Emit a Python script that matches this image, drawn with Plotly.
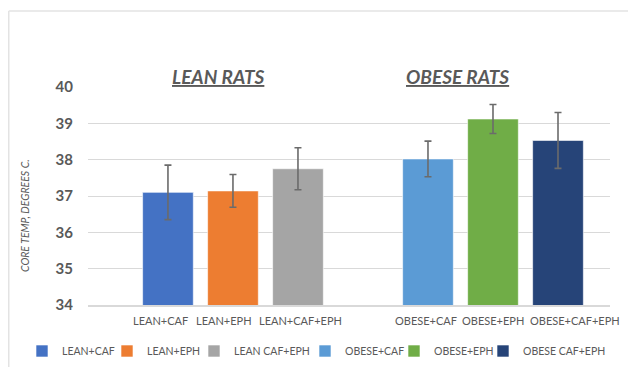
import plotly.graph_objects as go

categories = ["LEAN+CAF", "LEAN+EPH", "LEAN+CAF+EPH", " ", "OBESE+CAF", "OBESE+EPH", "OBESE+CAF+EPH"]
series_names = ["LEAN+CAF", "LEAN+EPH", "LEAN CAF+EPH", "OBESE+CAF", "OBESE+EPH", "OBESE CAF+EPH"]
series_cats = ["LEAN+CAF", "LEAN+EPH", "LEAN+CAF+EPH", "OBESE+CAF", "OBESE+EPH", "OBESE+CAF+EPH"]
values = [37.10, 37.14, 37.75, 38.02, 39.12, 38.53]
errors = [0.75, 0.45, 0.58, 0.49, 0.40, 0.77]
colors = ["#4472C4", "#ED7D31", "#A5A5A5", "#5B9BD5", "#70AD47", "#264478"]
label_shift = [-7, -9, 3, -2, 0, 17]
legend_widths = [40, 42, 66, 44, 44, 82]
group_titles = ["LEAN RATS", "OBESE RATS"]
y_ticks = [34, 35, 36, 37, 38, 39, 40]

TXT = "#595959"
FONT = "Lato"

fig = go.Figure()
for name, cat, v, e, c, lw in zip(series_names, series_cats, values, errors, colors, legend_widths):
    fig.add_trace(go.Bar(
        x=[cat], y=[v], name=name, legendwidth=lw,
        marker=dict(color=c, line=dict(color="rgba(255,255,255,0.6)", width=1)),
        width=0.78,
        error_y=dict(type="data", array=[e], visible=True, color="#6b6b6b", thickness=1.6, width=3.5),
    ))

# page body has an 8px margin; the figure is placed at (8, 8) in the 636x367 window
OFF = 8
W, H = 636 - OFF, 367 - OFF
L, R, T, B = 80, 26, 79, 62
pw = W - L - R
ph = H - T - B

def px(xpage):
    return (xpage - OFF - L) / pw

def py(ypage):
    return (H - B - (ypage - OFF)) / ph

annotations = []
for cat, sh in zip(series_cats, label_shift):
    annotations.append(dict(x=cat, xref="x", y=py(320), yref="paper", text=cat, showarrow=False,
                            xshift=sh, xanchor="center", yanchor="middle",
                            font=dict(family=FONT, size=11, color=TXT)))
for t, xp in zip(group_titles, [218, 457]):
    annotations.append(dict(x=px(xp), xref="paper", y=py(76), yref="paper",
                            text="<b><i><u>" + t + "</u></i></b>", showarrow=False,
                            xanchor="center", yanchor="middle", font=dict(family=FONT, size=19, color=TXT)))
annotations.append(dict(x=px(25), xref="paper", y=py(216), yref="paper", text="<i>CORE TEMP, DEGREES C.</i>",
                        textangle=-90, showarrow=False, xanchor="center", yanchor="middle",
                        font=dict(family=FONT, size=10.5, color=TXT)))

bx = px(OFF + 0.75)
by = py(11)
shapes = [
    dict(type="line", xref="paper", yref="paper", x0=bx, x1=bx, y0=py(400), y1=by,
         line=dict(color="#e3e3e3", width=1.5)),
    dict(type="line", xref="paper", yref="paper", x0=bx, x1=px(700), y0=by, y1=by,
         line=dict(color="#e3e3e3", width=1.5)),
]

fig.update_layout(
    width=W, height=H,
    margin=dict(l=L, r=R, t=T, b=B, pad=0, autoexpand=False),
    paper_bgcolor="white", plot_bgcolor="white",
    barmode="overlay",
    showlegend=True,
    legend=dict(orientation="h", x=px(22), xanchor="left", y=py(351), yanchor="middle",
                font=dict(family=FONT, size=10.5, color=TXT), itemwidth=30, traceorder="normal",
                bgcolor="rgba(0,0,0,0)"),
    xaxis=dict(type="category", categoryorder="array", categoryarray=categories,
               range=[-1.23, 6.8], showticklabels=False, ticks="", showgrid=False,
               showline=True, linecolor="#d9d9d9", linewidth=1.5, zeroline=False),
    yaxis=dict(range=[34, 40], tickvals=y_ticks, showgrid=True, gridcolor="#d9d9d9", gridwidth=1,
               zeroline=False, showline=False, ticks="", ticklabelstandoff=14,
               tickfont=dict(family=FONT, size=15, color=TXT, weight="bold")),
    annotations=annotations,
    shapes=shapes,
)

fig.write_html("out.html")
